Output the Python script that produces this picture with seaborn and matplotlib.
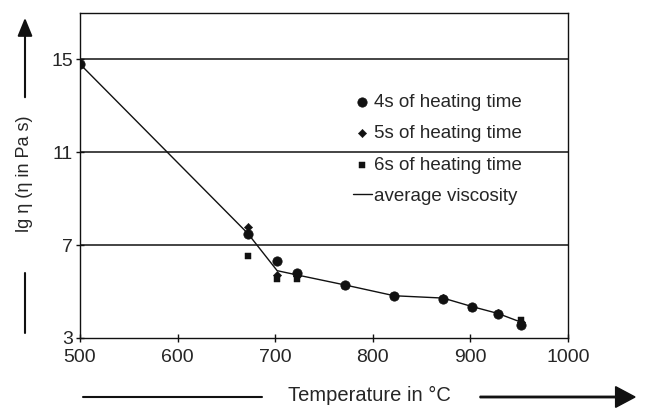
import pandas as pd
import matplotlib
matplotlib.use("Agg")
import matplotlib.pyplot as plt
import seaborn as sns

# temperatures (°C) and lg(viscosity)
temp_4s = [500, 672, 702, 722, 772, 822, 872, 902, 928, 952]
visc_4s = [14.8, 7.5, 6.3, 5.78, 5.28, 4.8, 4.7, 4.32, 4.05, 3.56]

temp_5s = [672, 702, 722, 772, 822, 872, 902, 928, 952]
visc_5s = [7.78, 5.7, 5.65, 5.28, 4.8, 4.72, 4.32, 4.08, 3.7]

temp_6s = [672, 702, 722, 772, 822, 872, 902, 928, 952]
visc_6s = [6.55, 5.55, 5.55, 5.25, 4.8, 4.7, 4.3, 4.05, 3.78]

temp_avg = [500, 672, 702, 722, 772, 822, 872, 902, 928, 952]
visc_avg = [14.8, 7.5, 5.9, 5.72, 5.28, 4.82, 4.72, 4.35, 4.06, 3.68]

x_ticks = [500, 600, 700, 800, 900, 1000]
y_ticks = [3, 7, 11, 15]

sns.set_style("ticks")
plt.rcParams['font.family'] = ['Liberation Sans', 'DejaVu Sans']

fig = plt.figure(figsize=(6.46, 4.13), dpi=100)
ax = fig.add_axes([80 / 646, 1 - 338 / 413, 488 / 646, 325 / 413])

ink = "#111111"

for y in y_ticks[1:]:
    ax.axhline(y, color=ink, lw=1.1, zorder=1)

sns.lineplot(x=temp_avg, y=visc_avg, ax=ax, color=ink, lw=1.0,
             label="average viscosity", zorder=2)
sns.scatterplot(x=temp_4s, y=visc_4s, ax=ax, marker="o", s=45, color=ink,
                edgecolor=ink, label="4s of heating time", zorder=3)
sns.scatterplot(x=temp_5s, y=visc_5s, ax=ax, marker="D", s=18, color=ink,
                edgecolor=ink, label="5s of heating time", zorder=3)
sns.scatterplot(x=temp_6s, y=visc_6s, ax=ax, marker="s", s=18, color=ink,
                edgecolor=ink, label="6s of heating time", zorder=3)

ax.set_xlim(500, 1000)
ax.set_ylim(3, 17)
ax.set_xticks(x_ticks)
ax.set_yticks(y_ticks)
ax.tick_params(axis="both", labelsize=14, color=ink, length=6, width=1,
               direction="inout")
ax.tick_params(axis="x", pad=5)
ax.tick_params(axis="y", pad=2)
for sp in ax.spines.values():
    sp.set_color(ink)
    sp.set_linewidth(1.0)

handles, labels = ax.get_legend_handles_labels()
order = [1, 2, 3, 0]
ax.legend([handles[i] for i in order], [labels[i] for i in order],
          frameon=False, fontsize=13.5, handlelength=1.0, handletextpad=0.1,
          labelspacing=0.76, loc="upper left", bbox_to_anchor=(0.544, 0.775),
          borderaxespad=0)

ax.set_xlabel("Temperature in °C", fontsize=14.5)
ax.xaxis.set_label_coords(0.594, -0.178)
ax.xaxis.label.set_va("center")
ax.set_ylabel("lg η (η in Pa s)", fontsize=13)
ax.yaxis.set_label_coords(-0.113, 0.505)
ax.yaxis.label.set_va("center")

# axis arrows
fig.add_artist(plt.Line2D([83 / 646, 262 / 646], [1 - 397 / 413] * 2,
                          color=ink, lw=1.5))
fig.add_artist(plt.Line2D([25 / 646] * 2, [1 - 273 / 413, 1 - 333 / 413],
                          color=ink, lw=1.5))
fig.patches.append(matplotlib.patches.FancyArrow(
    480 / 646, 1 - 397 / 413, 155 / 646, 0, width=0.0035,
    head_width=0.05, head_length=0.03, length_includes_head=True,
    color=ink, transform=fig.transFigure, figure=fig))
ax.annotate("", xy=(25 / 646, 1 - 15 / 413), xytext=(25 / 646, 1 - 100 / 413),
            xycoords="figure fraction", textcoords="figure fraction",
            arrowprops=dict(arrowstyle="-|>,head_length=1.1,head_width=0.45",
                            color=ink, lw=1.5))

plt.savefig("out.png", dpi=100)
